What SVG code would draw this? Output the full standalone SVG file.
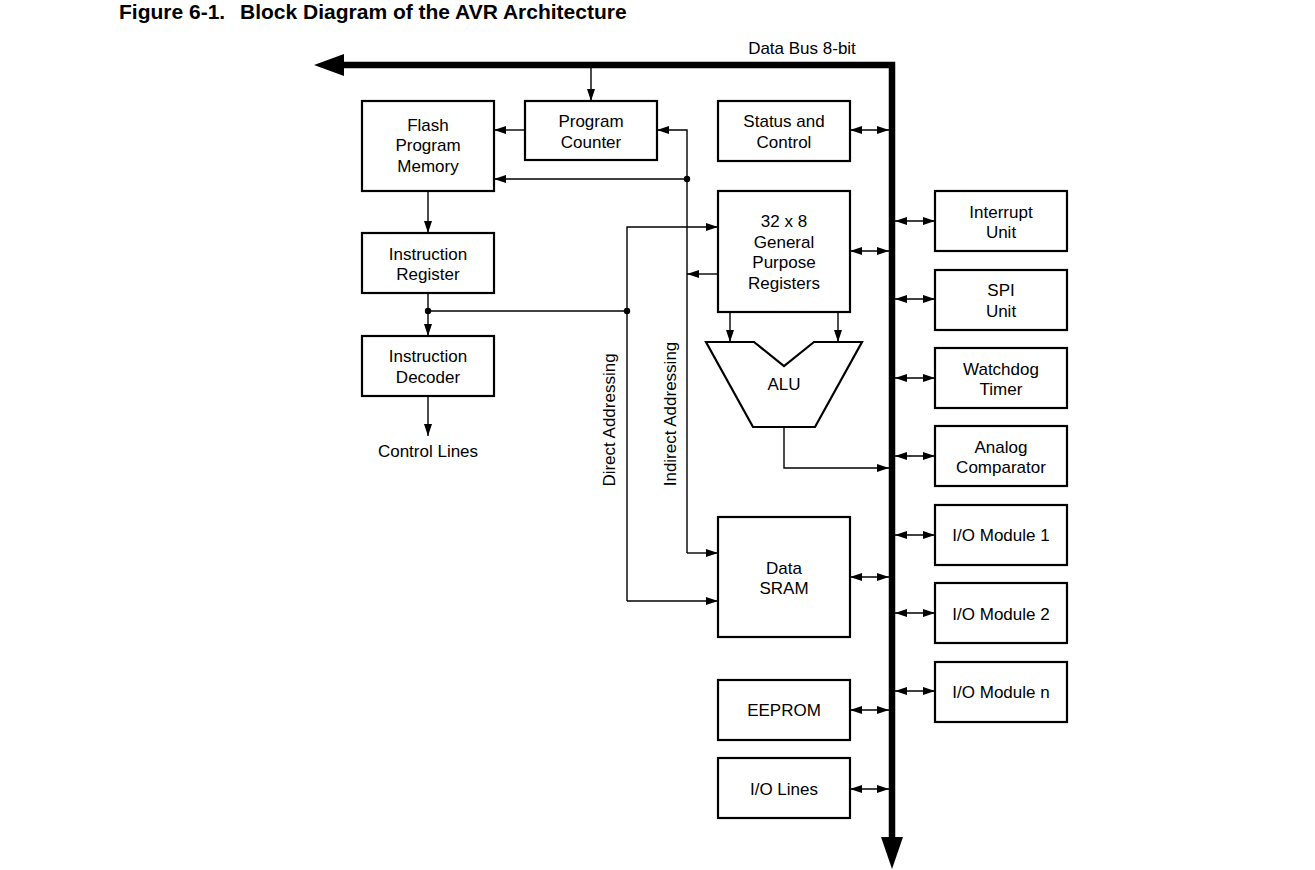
<svg xmlns="http://www.w3.org/2000/svg" width="1315" height="870" viewBox="0 0 1315 870">
<style>
.box{fill:#fff;stroke:#000;stroke-width:2.2}
.t{font-family:"Liberation Sans",Arial,sans-serif;font-size:17px;fill:#000;text-anchor:middle}
.ttl{font-family:"Liberation Sans",Arial,sans-serif;font-size:21px;font-weight:bold;fill:#000}
.c{fill:none;stroke:#000;stroke-width:1.4}
.a{marker-end:url(#ah)}
.d{marker-start:url(#ah);marker-end:url(#ah)}
.dot{fill:#000}
</style>
<defs>
<marker id="ah" viewBox="0 0 12 8" refX="12" refY="4" markerWidth="12" markerHeight="8" markerUnits="userSpaceOnUse" orient="auto-start-reverse">
<path d="M0,0 L12,4 L0,8 z" fill="#000"/>
</marker>
</defs>
<rect width="1315" height="870" fill="#fff"/>
<text class="ttl" x="119" y="19">Figure 6-1.</text>
<text class="ttl" x="240" y="19">Block Diagram of the AVR Architecture</text>

<g id="bus">
<path d="M892,840 L892,65 L342,65" fill="none" stroke="#000" stroke-width="6.5"/>
<polygon points="314,65 344,54 344,76" fill="#000"/>
<polygon points="892,869 881,837 903,837" fill="#000"/>
<text class="t" x="802" y="54">Data Bus 8-bit</text>
</g>

<g id="connectors">
<path class="c a" d="M591,65 L591,101"/>
<path class="c a" d="M525,130 L494,130"/>
<path class="c a" d="M687,553 L687,130 L657,130"/>
<path class="c a" d="M687,553 L718,553"/>
<path class="c a" d="M687,179 L494,179"/>
<path class="c a" d="M718,274 L687,274"/>
<path class="c a" d="M428,191 L428,233"/>
<path class="c a" d="M428,293 L428,336"/>
<path class="c" d="M428,311 L627,311"/>
<path class="c a" d="M627,601 L627,227 L718,227"/>
<path class="c a" d="M627,601 L718,601"/>
<path class="c a" d="M428,396 L428,436"/>
<path class="c a" d="M730,312 L730,342"/>
<path class="c a" d="M838,312 L838,342"/>
<path class="c a" d="M784,427 L784,468 L889,468"/>
<circle class="dot" cx="687" cy="179" r="3.2"/>
<circle class="dot" cx="428" cy="311" r="3.2"/>
<circle class="dot" cx="627" cy="311" r="3.2"/>
<path class="c d" d="M850,130 L889,130"/>
<path class="c d" d="M850,251 L889,251"/>
<path class="c d" d="M850,577 L889,577"/>
<path class="c d" d="M850,710 L889,710"/>
<path class="c d" d="M850,789 L889,789"/>
<path class="c d" d="M895,221 L935,221"/>
<path class="c d" d="M895,299 L935,299"/>
<path class="c d" d="M895,378 L935,378"/>
<path class="c d" d="M895,456 L935,456"/>
<path class="c d" d="M895,535 L935,535"/>
<path class="c d" d="M895,613 L935,613"/>
<path class="c d" d="M895,691 L935,691"/>
<text class="t" transform="translate(615,420) rotate(-90)">Direct Addressing</text>
<text class="t" transform="translate(676,414) rotate(-90)">Indirect Addressing</text>
<text class="t" x="428" y="457">Control Lines</text>
</g>

<g id="flash"><rect class="box" x="362" y="101" width="132" height="90"/>
<text class="t" x="428" y="131">Flash</text><text class="t" x="428" y="151">Program</text><text class="t" x="428" y="172">Memory</text></g>
<g id="pc"><rect class="box" x="525" y="101" width="132" height="59"/>
<text class="t" x="591" y="127">Program</text><text class="t" x="591" y="148">Counter</text></g>
<g id="status"><rect class="box" x="718" y="101" width="132" height="60"/>
<text class="t" x="784" y="127">Status and</text><text class="t" x="784" y="148">Control</text></g>
<g id="gpr"><rect class="box" x="718" y="191" width="132" height="121"/>
<text class="t" x="784" y="227">32 x 8</text><text class="t" x="784" y="248">General</text><text class="t" x="784" y="268">Purpose</text><text class="t" x="784" y="289">Registers</text></g>
<g id="ir"><rect class="box" x="362" y="233" width="132" height="60"/>
<text class="t" x="428" y="260">Instruction</text><text class="t" x="428" y="280">Register</text></g>
<g id="id"><rect class="box" x="362" y="336" width="132" height="60"/>
<text class="t" x="428" y="362">Instruction</text><text class="t" x="428" y="383">Decoder</text></g>
<g id="alu"><polygon class="box" points="706,342 754,342 784,366 814,342 862,342 815,427 753,427"/>
<text class="t" x="784" y="390">ALU</text></g>
<g id="sram"><rect class="box" x="718" y="517" width="132" height="120"/>
<text class="t" x="784" y="574">Data</text><text class="t" x="784" y="594">SRAM</text></g>
<g id="eeprom"><rect class="box" x="718" y="680" width="132" height="60"/>
<text class="t" x="784" y="716">EEPROM</text></g>
<g id="iolines"><rect class="box" x="718" y="758" width="132" height="60"/>
<text class="t" x="784" y="795">I/O Lines</text></g>
<g id="interrupt"><rect class="box" x="935" y="191" width="132" height="60"/>
<text class="t" x="1001" y="218">Interrupt</text><text class="t" x="1001" y="238">Unit</text></g>
<g id="spi"><rect class="box" x="935" y="270" width="132" height="60"/>
<text class="t" x="1001" y="296">SPI</text><text class="t" x="1001" y="317">Unit</text></g>
<g id="watchdog"><rect class="box" x="935" y="348" width="132" height="60"/>
<text class="t" x="1001" y="375">Watchdog</text><text class="t" x="1001" y="395">Timer</text></g>
<g id="analog"><rect class="box" x="935" y="426" width="132" height="60"/>
<text class="t" x="1001" y="453">Analog</text><text class="t" x="1001" y="473">Comparator</text></g>
<g id="io1"><rect class="box" x="935" y="505" width="132" height="60"/>
<text class="t" x="1001" y="541">I/O Module 1</text></g>
<g id="io2"><rect class="box" x="935" y="583" width="132" height="60"/>
<text class="t" x="1001" y="620">I/O Module 2</text></g>
<g id="ion"><rect class="box" x="935" y="662" width="132" height="60"/>
<text class="t" x="1001" y="698">I/O Module n</text></g>
</svg>
